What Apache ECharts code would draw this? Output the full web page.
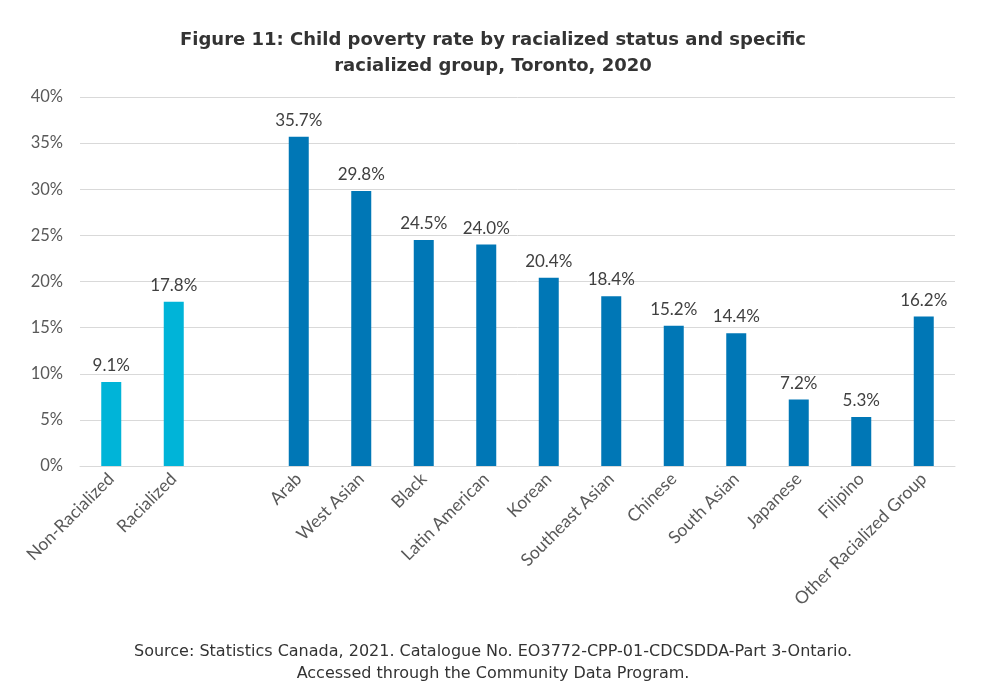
<!DOCTYPE html>
<html>
<head>
<meta charset="utf-8">
<script src="https://cdn.jsdelivr.net/npm/echarts@6/dist/echarts.min.js"></script>
<style>
html,body{margin:0;padding:0;background:#fff;}
#chart{width:986px;height:696px;}
</style>
</head>
<body>
<div id="chart"></div>
<script>
var categories = ['Non-Racialized','Racialized','','Arab','West Asian','Black','Latin American','Korean','Southeast Asian','Chinese','South Asian','Japanese','Filipino','Other Racialized Group'];
var values = [9.1, 17.8, null, 35.7, 29.8, 24.5, 24.0, 20.4, 18.4, 15.2, 14.4, 7.2, 5.3, 16.2];
var groups = ['status','status',null,'group','group','group','group','group','group','group','group','group','group','group'];
var yTicks = [0, 5, 10, 15, 20, 25, 30, 35, 40];
var titleLines = ['Figure 11: Child poverty rate by racialized status and specific', 'racialized group, Toronto, 2020'];
var sourceLines = ['Source: Statistics Canada, 2021. Catalogue No. EO3772-CPP-01-CDCSDDA-Part 3-Ontario.', 'Accessed through the Community Data Program.'];

var colorMap = {status: '#00B4D8', group: '#0077B6'};
var data = values.map(function (v, i) {
  if (v === null) return '-';
  return {value: v, itemStyle: {color: colorMap[groups[i]]}};
});

var chart = echarts.init(document.getElementById('chart'), null, {renderer: 'canvas'});
chart.setOption({
  backgroundColor: '#ffffff',
  animation: false,
  title: [{
    text: titleLines.join('\n'),
    left: 'center',
    top: 22,
    textStyle: {fontFamily: 'DejaVu Sans', fontWeight: 'bold', fontSize: 18, color: '#333333', lineHeight: 26}
  }, {
    text: sourceLines.join('\n'),
    left: 'center',
    top: 636,
    textStyle: {fontFamily: 'DejaVu Sans', fontWeight: 400, fontSize: 16, color: '#333333', lineHeight: 22}
  }],
  grid: {left: 80, right: 31, top: 97, bottom: 230, containLabel: false},
  xAxis: {
    type: 'category',
    data: categories,
    axisLine: {show: true, lineStyle: {color: '#d9d9d9', width: 1}},
    axisTick: {show: false},
    axisLabel: {
      interval: 0, rotate: 45, margin: 10,
      fontFamily: 'Lato', fontSize: 17.5, color: '#595959'
    }
  },
  yAxis: {
    type: 'value',
    min: yTicks[0], max: yTicks[yTicks.length - 1], interval: 5,
    axisLine: {show: false},
    axisTick: {show: false},
    splitLine: {lineStyle: {color: '#d9d9d9', width: 1}},
    axisLabel: {
      margin: 17,
      fontFamily: 'Lato', fontSize: 16.5, color: '#595959',
      formatter: function (v) { return v + '%'; }
    }
  },
  series: [{
    type: 'bar',
    data: data,
    barWidth: '32%',
    label: {
      show: true, position: 'top', distance: 8,
      fontFamily: 'Lato', fontSize: 17, color: '#404040',
      formatter: function (p) { return p.value.toFixed(1) + '%'; }
    }
  }]
});
</script>
</body>
</html>
